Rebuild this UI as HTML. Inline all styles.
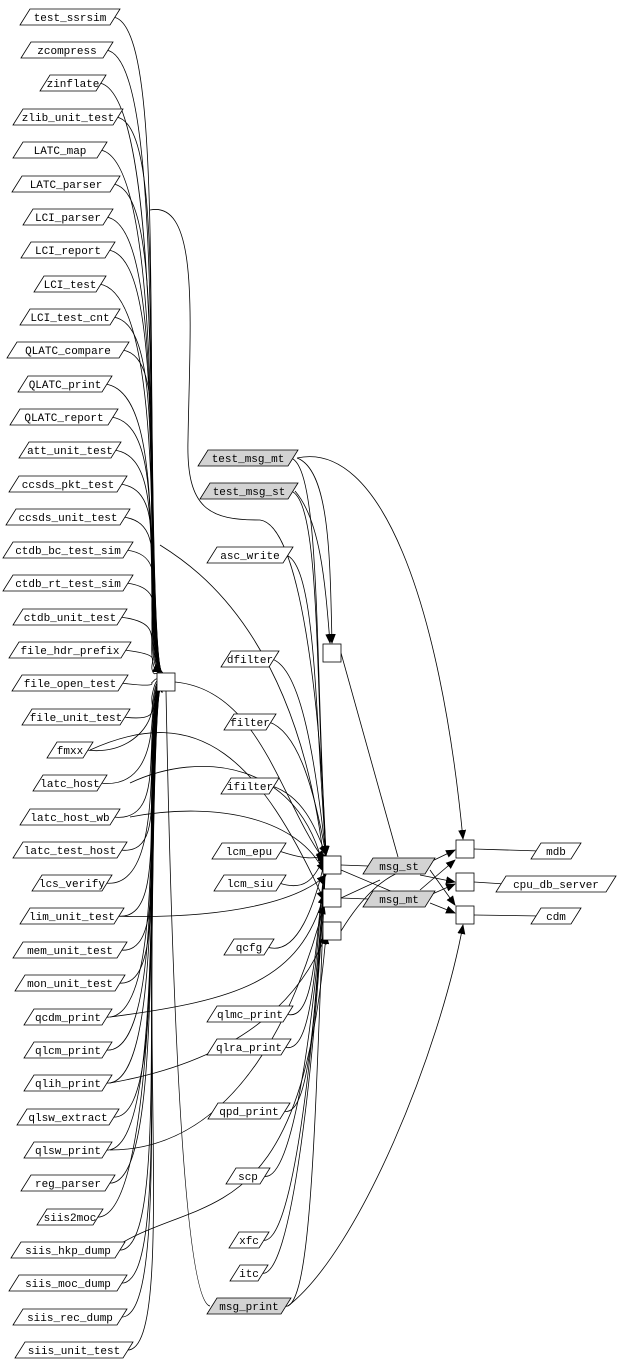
<!DOCTYPE html>
<html><head><meta charset="utf-8"><style>
html,body{margin:0;padding:0;background:#fff;}
svg{display:block;font-family:"Liberation Mono","DejaVu Sans Mono",monospace;font-size:11px;}
</style></head><body>
<svg id="g" width="618" height="1362" viewBox="0 0 618 1362" xmlns="http://www.w3.org/2000/svg">
<defs><marker id="a" markerWidth="10" markerHeight="8" refX="9" refY="4" orient="auto" markerUnits="userSpaceOnUse"><path d="M0,0 L10,4 L0,8z" fill="#000"/></marker></defs>
<g id="edges" fill="none" stroke="#000" stroke-width="0.8"></g>
<g id="nodes" stroke="#000" stroke-width="0.8" fill="#fff">
<rect x="157" y="673" width="18" height="18"/>
<rect x="323" y="644" width="18" height="18"/>
<rect x="323" y="856" width="18" height="18"/>
<rect x="323" y="889" width="18" height="18"/>
<rect x="323" y="922" width="18" height="18"/>
<rect x="456" y="840" width="18" height="18"/>
<rect x="456" y="873" width="18" height="18"/>
<rect x="456" y="906" width="18" height="18"/>
</g>
<g id="labels" text-anchor="middle" fill="#000">
<text x="70" y="21">test_ssrsim</text>
<text x="67" y="54">zcompress</text>
<text x="73" y="87">zinflate</text>
<text x="68" y="121">zlib_unit_test</text>
<text x="60" y="154">LATC_map</text>
<text x="66" y="188">LATC_parser</text>
<text x="68" y="221">LCI_parser</text>
<text x="68" y="254">LCI_report</text>
<text x="70" y="288">LCI_test</text>
<text x="70" y="321">LCI_test_cnt</text>
<text x="68" y="354">QLATC_compare</text>
<text x="65" y="388">QLATC_print</text>
<text x="64" y="421">QLATC_report</text>
<text x="70" y="454">att_unit_test</text>
<text x="68" y="488">ccsds_pkt_test</text>
<text x="68" y="521">ccsds_unit_test</text>
<text x="68" y="554">ctdb_bc_test_sim</text>
<text x="68" y="587">ctdb_rt_test_sim</text>
<text x="70" y="621">ctdb_unit_test</text>
<text x="70" y="654">file_hdr_prefix</text>
<text x="70" y="687">file_open_test</text>
<text x="76" y="721">file_unit_test</text>
<text x="70" y="754">fmxx</text>
<text x="70" y="787">latc_host</text>
<text x="70" y="821">latc_host_wb</text>
<text x="70" y="854">latc_test_host</text>
<text x="72" y="887">lcs_verify</text>
<text x="72" y="920">lim_unit_test</text>
<text x="70" y="954">mem_unit_test</text>
<text x="70" y="987">mon_unit_test</text>
<text x="68" y="1021">qcdm_print</text>
<text x="68" y="1054">qlcm_print</text>
<text x="68" y="1087">qlih_print</text>
<text x="68" y="1121">qlsw_extract</text>
<text x="68" y="1154">qlsw_print</text>
<text x="68" y="1187">reg_parser</text>
<text x="70" y="1221">siis2moc</text>
<text x="68" y="1254">siis_hkp_dump</text>
<text x="68" y="1287">siis_moc_dump</text>
<text x="70" y="1321">siis_rec_dump</text>
<text x="74" y="1354">siis_unit_test</text>
<text x="248" y="462">test_msg_mt</text>
<text x="249" y="495">test_msg_st</text>
<text x="250" y="559">asc_write</text>
<text x="250" y="663">dfilter</text>
<text x="250" y="726">filter</text>
<text x="250" y="790">ifilter</text>
<text x="249" y="855">lcm_epu</text>
<text x="250" y="887">lcm_siu</text>
<text x="249" y="951">qcfg</text>
<text x="250" y="1018">qlmc_print</text>
<text x="249" y="1051">qlra_print</text>
<text x="249" y="1115">qpd_print</text>
<text x="248" y="1180">scp</text>
<text x="249" y="1244">xfc</text>
<text x="249" y="1277">itc</text>
<text x="249" y="1310">msg_print</text>
<text x="399" y="870">msg_st</text>
<text x="399" y="903">msg_mt</text>
<text x="556" y="855">mdb</text>
<text x="556" y="888">cpu_db_server</text>
<text x="556" y="920">cdm</text>
</g>
</svg>
<script>
var NS="http://www.w3.org/2000/svg",E=document.getElementById("edges"),N=document.getElementById("nodes");
function P(d,arrow){var p=document.createElementNS(NS,"path");p.setAttribute("d",d);if(arrow)p.setAttribute("marker-end","url(#a)");E.appendChild(p);}
function para(cx,cy,w,gray){var h=16,s=5,x0=cx-w/2,y0=cy-h/2;var p=document.createElementNS(NS,"path");
p.setAttribute("d","M"+(x0+s)+","+y0+" L"+(x0+w+s)+","+y0+" L"+(x0+w-s)+","+(y0+h)+" L"+(x0-s)+","+(y0+h)+"Z");
if(gray)p.setAttribute("fill","#d3d3d3");N.insertBefore(p,N.firstChild);}
var L=[[70,17,90],[67,50,82],[73,83,56],[68,117,100],[60,150,84],[66,184,98],[68,217,80],[68,250,84],[70,284,62],[70,317,90],[68,350,112],[65,384,84],[64,417,98],[70,450,92],[68,484,108],[68,517,114],[68,550,120],[68,583,120],[70,617,104],[70,650,112],[70,683,106],[76,717,98],[70,750,36],[70,783,64],[70,817,90],[70,850,104],[72,883,70],[72,916,94],[70,950,104],[70,983,100],[68,1017,78],[68,1050,78],[68,1083,78],[68,1117,92],[68,1150,78],[68,1183,84],[70,1217,56],[68,1250,104],[68,1283,108],[70,1317,104],[74,1350,108]];
L.forEach(function(n,i){para(n[0],n[1],n[2]);var x=n[0]+n[2]/2-2,y=n[1];
P("M"+x+","+y+" C"+(x+40)+","+(y+5)+" 150,"+(y+(682-y)*0.3)+" 152,"+(y+(682-y)*0.6)+" S158,670 162,"+(y<682?672:692),true);});
var M=[[248,458,90,1],[249,491,88,1],[250,555,76],[250,659,48],[250,722,42],[250,786,48],[249,851,64],[250,883,62],[249,947,40],[250,1014,76],[249,1047,74],[249,1111,72],[248,1176,34],[249,1240,30],[249,1273,28],[249,1306,74,1]];
M.forEach(function(n){para(n[0],n[1],n[2],n[3]);var x=n[0]+n[2]/2-2,y=n[1];
P("M"+x+","+y+" C"+(x+30)+","+(y+10)+" 315,"+(y+(865-y)*0.5)+" 326,855",true);});
P("M297,458 C330,470 330,560 332,643",true);
P("M295,491 C320,520 325,580 330,643",true);
P("M297,458 C380,440 440,600 463,839",true);
P("M288,1306 C360,1250 440,1050 463,925",true);
P("M175,682 C260,690 280,800 324,860",true);
P("M166,691 C170,900 180,1300 210,1306");
P("M160,545 C200,570 300,640 325,870",true);
P("M150,210 C200,200 190,320 188,440 C186,510 210,520 260,520 C300,525 320,700 326,855",true);
P("M90,750 C200,700 260,760 324,900",true);
P("M110,1150 C240,1150 300,1000 324,905",true);
P("M110,1083 C240,1060 300,1000 326,935",true);
P("M110,1250 C200,1190 300,1240 326,935",true);
P("M110,916 C230,920 300,900 326,875",true);
P("M130,783 C200,750 300,760 324,870",true);
P("M130,817 C220,800 300,820 324,872",true);
P("M110,1017 C240,1000 300,980 324,895",true);
P("M341,653 L398,857");
P("M341,865 L368,866");P("M341,898 L368,899");
P("M341,870 L400,895");P("M341,931 C360,900 380,880 400,872");
P("M341,898 L380,880");
P("M430,862 L455,850",true);P("M430,870 L455,905",true);
P("M430,895 L455,884",true);P("M430,903 L455,913",true);
P("M420,890 L455,860",true);P("M420,875 L455,882",true);
P("M474,849 L540,851");P("M474,882 L505,884");P("M474,915 L540,916");
para(399,866,62,1);para(399,899,62,1);para(556,851,40);para(556,884,110);para(556,916,40);
</script>
</body></html>
